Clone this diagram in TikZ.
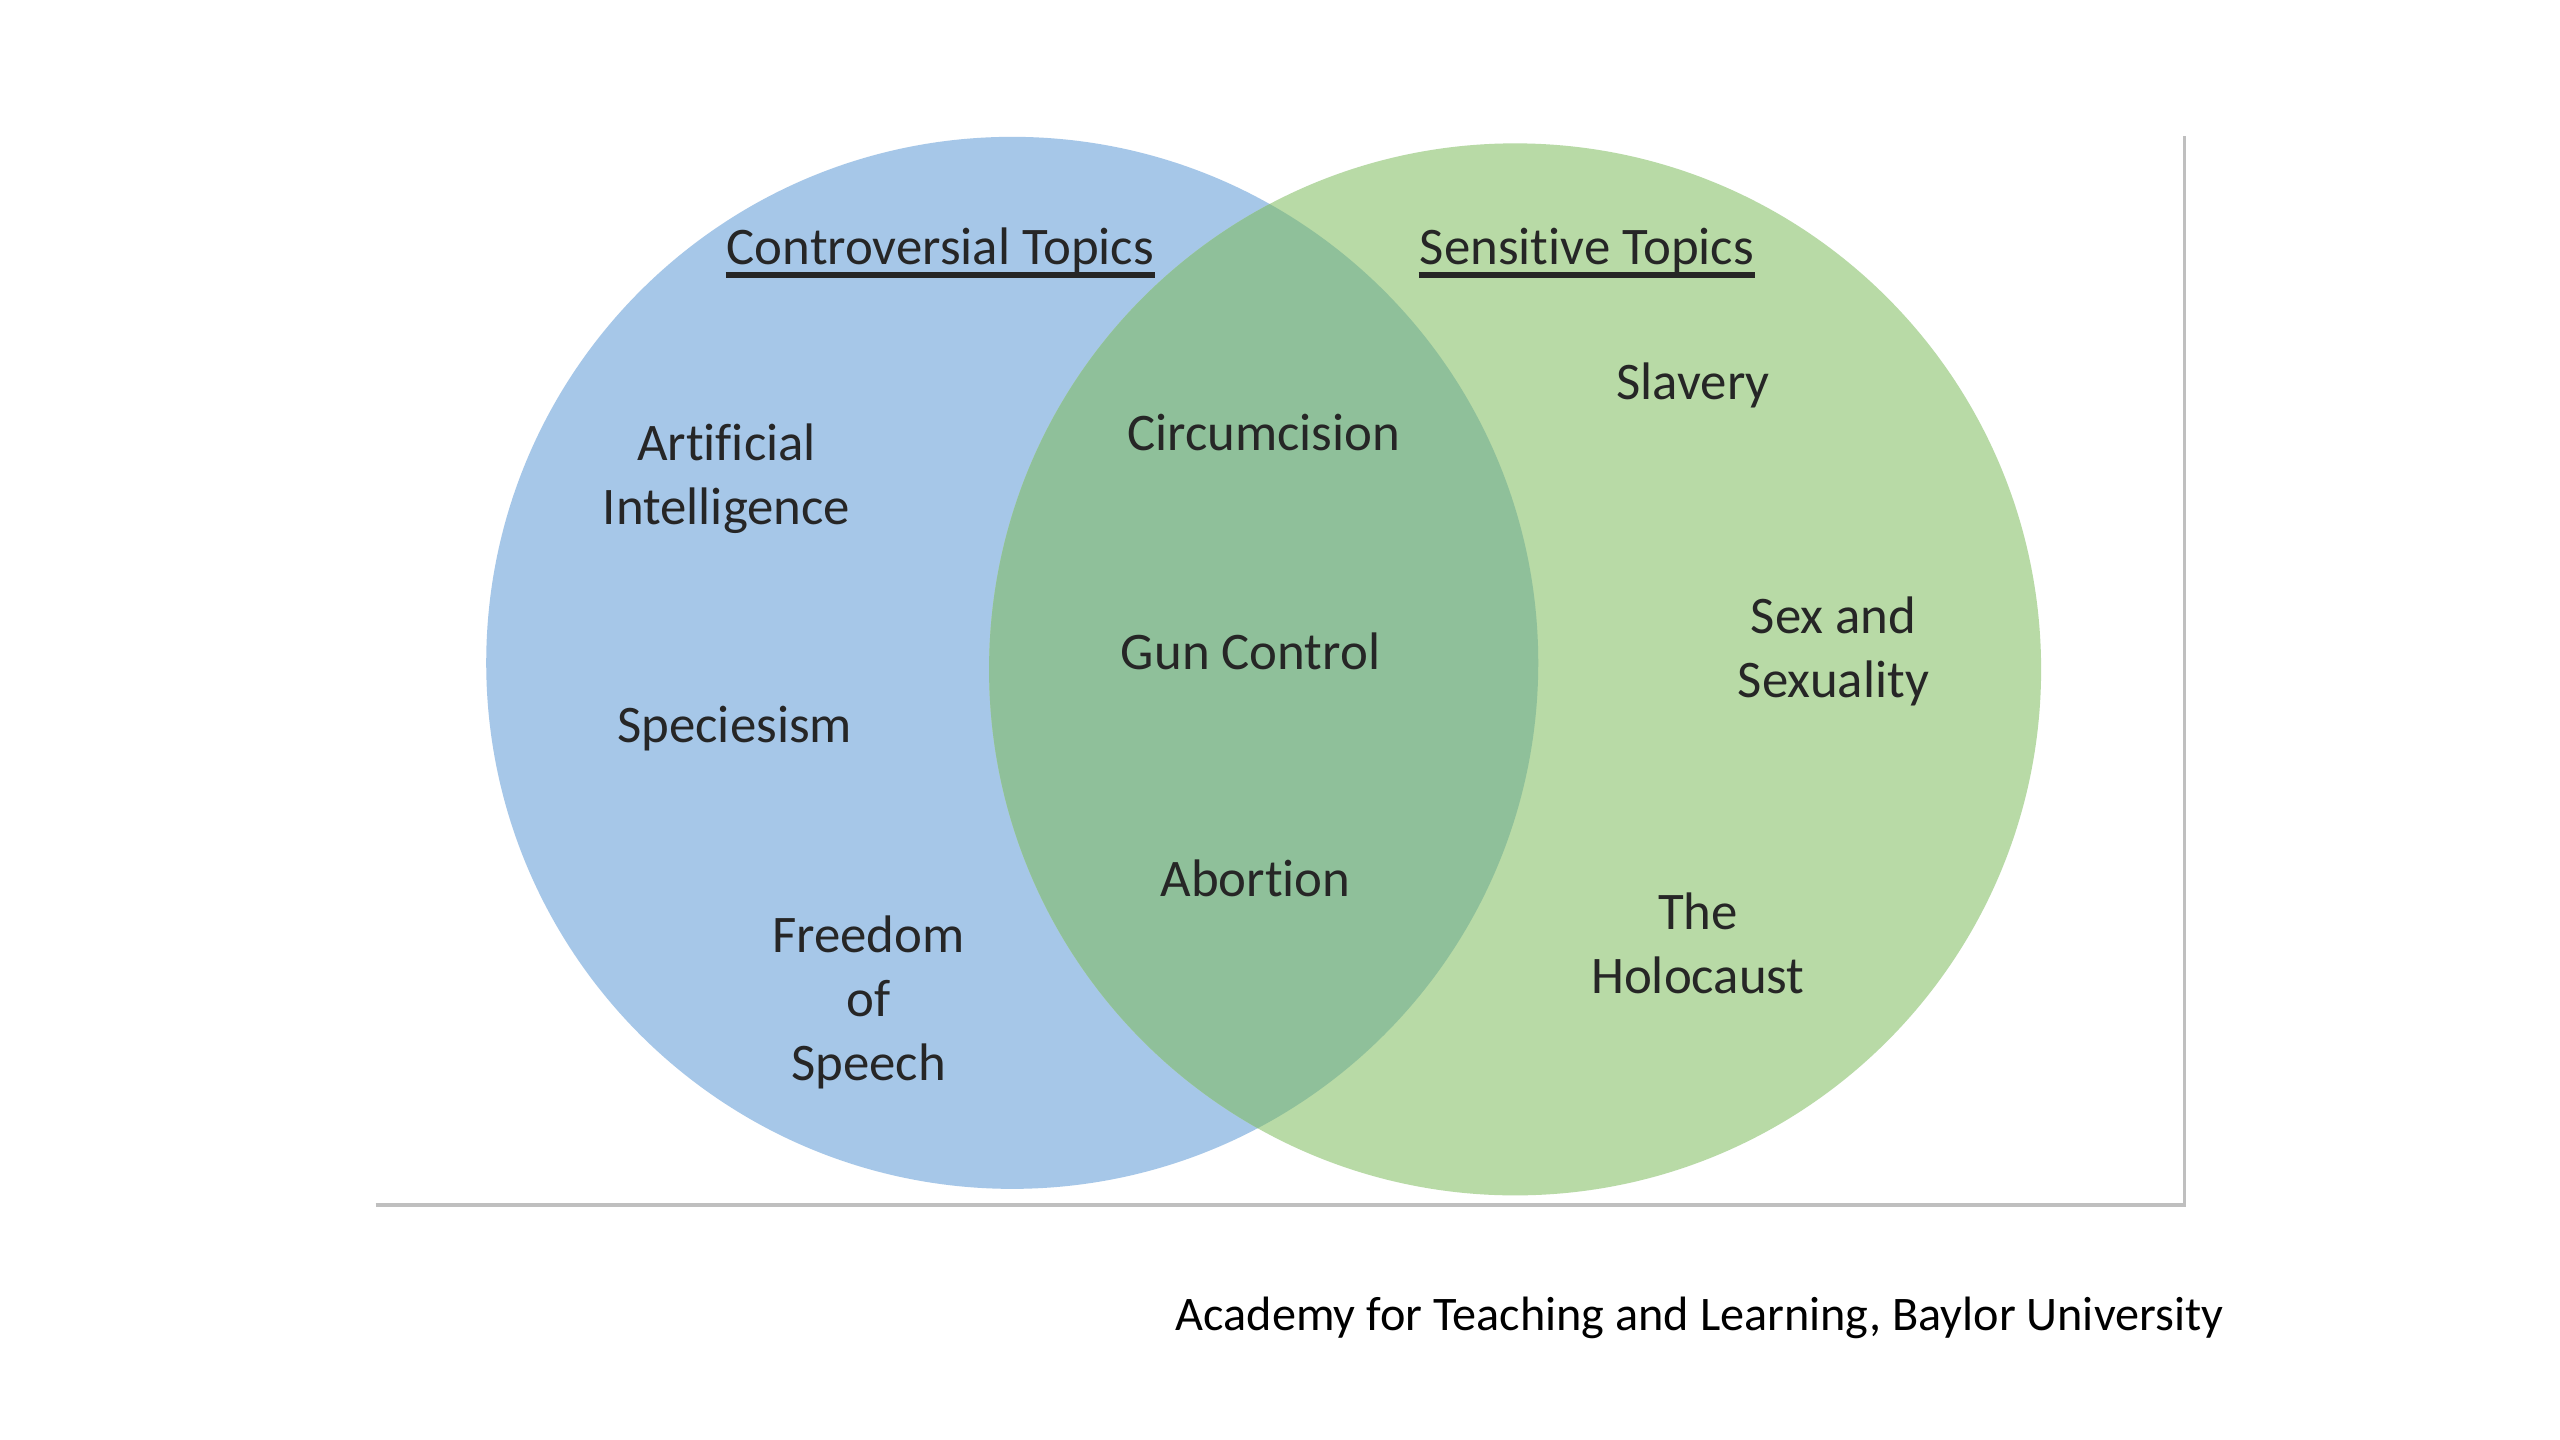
\documentclass[tikz,border=0pt]{standalone}
\usepackage{fontspec}
\setmainfont{Carlito}[Ligatures=NoCommon]
\definecolor{vennblue}{HTML}{A6C7E8}
\definecolor{venngreen}{HTML}{B8DAA6}
\definecolor{vennmix}{HTML}{8FC09A}
\definecolor{frameline}{HTML}{BFBFBF}
\begin{document}
\begin{tikzpicture}[x=0.01cm,y=-0.01cm,
    topic/.style={align=center,inner sep=0pt,text=black!85,
        font=\fontsize{9.2}{11.2}\selectfont},
    heading/.style={topic,anchor=base}]
        \useasboundingbox[fill=white] (0,0) rectangle (1568,882);
        \coordinate (CL) at (620,406);
        \coordinate (CR) at (928,410);
        \fill[vennblue] (CL) circle (3.22cm);
        \fill[venngreen] (CR) circle (3.22cm);
        \begin{scope}
            \clip (CL) circle (3.22cm);
            \fill[vennmix] (CR) circle (3.22cm);
        \end{scope}
        \coordinate (F1) at (230,738);
        \coordinate (F2) at (1338,738);
        \coordinate (F3) at (1338,83);
        \draw[frameline,line width=0.6pt] (F1) -- (F2) -- (F3);
        \node[heading] (H1) at (576,162) {Controversial Topics};
        \node[heading] (H2) at (972,162) {Sensitive Topics};
        \foreach \h in {H1,H2}{%
        \draw[black!85,line width=1pt] ([yshift=-0.065cm]\h.base west) -- ([yshift=-0.065cm]\h.base east);
        }
        \foreach \x/\y/\t [count=\i] in {445/293/{Artificial\\Intelligence},
            450/446/Speciesism,532/614/{Freedom\\of\\Speech},
            774/265/Circumcision,766/399/Gun Control,769/538/Abortion,
            1037/236/Slavery,1123/399/{Sex and\\Sexuality},1040/578/{The\\Holocaust}}{%
        \node[topic] (T\i) at (\x,\y) {\t};
        }
        \node[topic,anchor=base,text=black,font=\fontsize{8.4}{10}\selectfont] (src) at (1041,815)
            {Academy for Teaching and Learning, Baylor University};
    \end{tikzpicture}
\end{document}
